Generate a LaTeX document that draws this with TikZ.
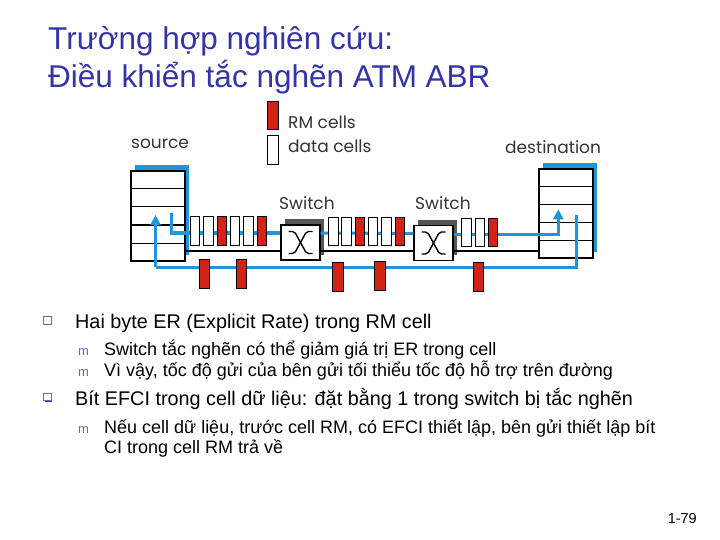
\documentclass[tikz,border=0pt]{standalone}
\usepackage{fontspec}
\setmainfont{Liberation Sans}
\newfontfamily\geofont{Poppins}
\usetikzlibrary{positioning,arrows.meta,shadows,calc}

\definecolor{titleblue}{RGB}{51,51,170}
\definecolor{linkblue}{RGB}{30,150,220}
\definecolor{rmred}{RGB}{210,35,25}
\definecolor{shadegray}{RGB}{85,85,85}
\definecolor{bulletviolet}{RGB}{102,102,204}

\tikzset{
  hostbox/.style={draw, line width=1.5pt, fill=white, inner sep=0pt,
    minimum width=54pt, minimum height=90pt,
    drop shadow={shadow xshift=4pt, shadow yshift=6pt, fill=linkblue, opacity=1}},
  switchbox/.style={draw, line width=1.2pt, fill=white, inner sep=0pt,
    minimum width=39pt, minimum height=35pt,
    drop shadow={shadow xshift=3.5pt, shadow yshift=5.5pt, fill=shadegray, opacity=1}},
  cellbox/.style={draw, line width=1pt, fill=white, inner sep=0pt,
    minimum width=9.5pt, minimum height=28pt},
  rmcell/.style={cellbox, fill=rmred},
  flow/.style={draw=linkblue, line width=3pt},
  flowtip/.style={flow, -{Triangle[length=10pt,width=10pt]}},
  link/.style={draw=black, line width=1.3pt},
  lbl/.style={anchor=base west, inner sep=0pt, text=black!80,
    font=\geofont\fontsize{17}{20}\selectfont},
  sqbullet/.style={draw=bulletviolet, fill=white, line width=0.9pt, inner sep=0pt,
    minimum size=7.5pt,
    drop shadow={shadow xshift=1.2pt, shadow yshift=-1.2pt, fill=bulletviolet!60!black, opacity=1}},
  mbullet/.style={anchor=base west, inner sep=0pt, text=bulletviolet,
    font=\fontsize{13}{15}\selectfont},
  mainline/.style={anchor=base west, inner sep=0pt, font=\fontsize{19.8}{23}\selectfont},
  subline/.style={anchor=base west, inner sep=0pt, font=\fontsize{18}{21}\selectfont},
  xcross/.pic={
    \draw[line width=1.4pt, rounded corners=2pt] (-12,-11) -- (-6,-11) -- (6,11) -- (12,11);
    \draw[line width=1.4pt, rounded corners=2pt] (-12,11) -- (-6,11) -- (6,-11) -- (12,-11);
  }
}

\begin{document}
\begin{tikzpicture}[x=1pt, y=-1pt]
  \useasboundingbox (0,0) rectangle (720,540);

  % title
  \node[anchor=base west, inner sep=0pt, text=titleblue,
    font=\fontsize{31.5}{36}\selectfont] (title1) at (48,50) {Trường hợp nghiên cứu:};
  \node[anchor=base west, inner sep=0pt, text=titleblue,
    font=\fontsize{31.5}{36}\selectfont] (title2) at (48,88) {Điều khiển tắc nghẽn ATM ABR};

  % hosts and switches
  \node[hostbox] (src) at (158,216) {};
  \node[hostbox, minimum height=89pt] (dst) at (566,213.7) {};
  \foreach \k in {1,...,4} {
    \draw[line width=1.3pt] ($(src.north west)!\k/5!(src.south west)$) -- ($(src.north east)!\k/5!(src.south east)$);
    \draw[line width=1.3pt] ($(dst.north west)!\k/5!(dst.south west)$) -- ($(dst.north east)!\k/5!(dst.south east)$);
  }
  \node[switchbox] (sw1) at (300.5,242.5) {};
  \node[switchbox] (sw2) at (433.5,243) {};
  \pic at (sw1) {xcross};
  \pic at (sw2) {xcross};

  % labels
  \node[lbl] (srclbl) at (131,149) {source};
  \node[lbl] (dstlbl) at (505,153.5) {destination};
  \node[lbl] (sw1lbl) at (279,209.3) {Switch};
  \node[lbl] (sw2lbl) at (415,209.3) {Switch};

  % legend
  \node[rmcell, minimum width=10.5pt] (legrm) at (273,116) {};
  \node[cellbox, minimum width=10.5pt, minimum height=29pt] (legdata) at (273,150.3) {};
  \node[lbl] (rmlbl) at (288,128.3) {RM cells};
  \node[lbl] (datalbl) at (288,152.3) {data cells};

  % forward path
  \coordinate (srcbeg) at (171,213);
  \coordinate (up1) at ([yshift=9.5pt]sw1.west);
  \coordinate (up2) at ([yshift=9.5pt]sw1.east);
  \coordinate (up3) at ([yshift=9.5pt]sw2.west);
  \coordinate (up4) at ([yshift=9pt]sw2.east);
  \coordinate (dstarr) at (558.3,209.3);
  \draw[flow] (srcbeg) |- (up1);
  \draw[flow] (up2) -- (up3);
  \draw[flowtip] (up4) -| (dstarr);

  \coordinate (lo1) at ([yshift=-8.5pt]sw1.west);
  \coordinate (lo2) at ([yshift=-8.5pt]sw1.east);
  \coordinate (lo3) at ([yshift=-8pt]sw2.west);
  \coordinate (lo4) at ([yshift=-8pt]sw2.east);
  \draw[link] (lo1 -| src.east) -- (lo1);
  \draw[link] (lo2) -- (lo3);
  \draw[link] (lo4) -- (lo4 -| dst.west);

  % return path
  \coordinate (dstbeg) at (576.7,215);
  \coordinate (rtn) at (155.5,267.3);
  \coordinate (srcarr) at (155.5,215);
  \draw[flow] (dstbeg) |- (rtn);
  \draw[flowtip] (rtn) -- (srcarr);

  % cells
  \foreach \x/\c [count=\n] in {195/cellbox, 208.4/cellbox, 221.8/rmcell,
      235.2/cellbox, 248.6/cellbox, 262/rmcell}
    \node[\c] (a\n) at (\x,231) {};
  \foreach \x/\c [count=\n] in {333.3/cellbox, 346.6/cellbox, 359.9/rmcell,
      373.2/cellbox, 386.5/cellbox, 399.8/rmcell}
    \node[\c] (b\n) at (\x,231.5) {};
  \foreach \x/\c [count=\n] in {466.7/cellbox, 479.9/cellbox, 493.1/rmcell}
    \node[\c] (c\n) at (\x,232.5) {};
  \foreach \x/\y [count=\n] in {204.7/273.5, 241.3/273.5, 338.2/277, 380/276, 478.7/276.5}
    \node[rmcell, minimum width=10.5pt, minimum height=29pt] (r\n) at (\x,\y) {};

  % bullets
  \node[sqbullet] (bul1) at (47.5,320.4) {};
  \node[mainline] (t1) at (75,328.3) {Hai byte ER (Explicit Rate) trong RM cell};
  \node[mbullet] (m1) at (78,355) {m};
  \node[subline] (t2) at (104,355) {Switch tắc nghẽn có thể giảm giá trị ER trong cell};
  \node[mbullet] (m2) at (78,376.7) {m};
  \node[subline] (t3) at (104,376.7) {Vì vậy, tốc độ gửi của bên gửi tối thiểu tốc độ hỗ trợ trên đường};
  \node[sqbullet] (bul2) at (47.5,397) {};
  \node[mainline] (t4) at (75,405) {Bít EFCI trong cell dữ liệu: đặt bằng 1 trong switch bị tắc nghẽn};
  \node[mbullet] (m3) at (78,433.3) {m};
  \node[subline] (t5) at (104,433.3) {Nếu cell dữ liệu, trước cell RM, có EFCI thiết lập, bên gửi thiết lập bít};
  \node[subline] (t6) at (104,453.3) {CI trong cell RM trả về};

  % page number
  \node[anchor=base east, inner sep=0pt, font=\fontsize{14.5}{17}\selectfont] (pg) at (697,523) {1-79};
\end{tikzpicture}
\end{document}
